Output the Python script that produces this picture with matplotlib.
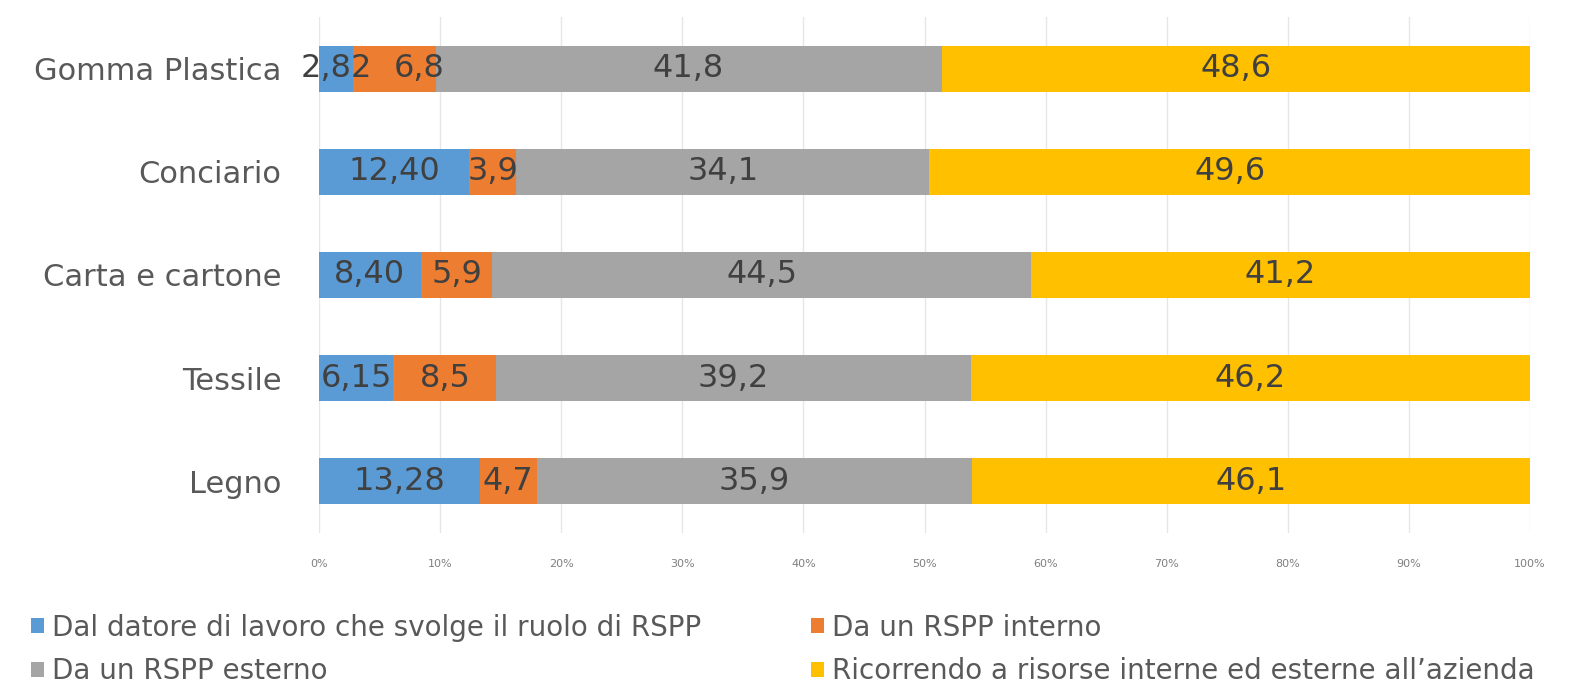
import matplotlib as mpl
import matplotlib.pyplot as plt

mpl.rc("figure", facecolor="white")
plt.rcParams['font.family'] = ['DejaVu Sans']

# data (top to bottom as in the picture)
categories = ['Gomma Plastica', 'Conciario', 'Carta e cartone', 'Tessile', 'Legno']
datore = [2.82, 12.40, 8.40, 6.15, 13.28]
interno = [6.8, 3.9, 5.9, 8.5, 4.7]
esterno = [41.8, 34.1, 44.5, 39.2, 35.9]
risorse = [48.6, 49.6, 41.2, 46.2, 46.1]
labels_datore = ['2,82', '12,40', '8,40', '6,15', '13,28']

series = [
    ('Dal datore di lavoro che svolge il ruolo di RSPP', datore, '#5B9BD5'),
    ('Da un RSPP interno', interno, '#ED7D31'),
    ('Da un RSPP esterno', esterno, '#A5A5A5'),
    ('Ricorrendo a risorse interne ed esterne all\u2019azienda', risorse, '#FFC000'),
]

# label nudges (points) where the original moved a label off centre
nudge = {(1, 0): 18}

fig = plt.figure(figsize=(15.81, 6.88), dpi=100)
ax = fig.add_axes([0.2018, 0.226, 0.766, 0.7486])

ypos = list(range(len(categories)))
tot = [sum(s[1][i] for s in series) for i in range(len(categories))]
left = [0.0] * len(categories)
for k, (name, vals, col) in enumerate(series):
    pct = [v / t * 100 for v, t in zip(vals, tot)]
    ax.barh(ypos, pct, left=left, height=0.45, color=col, label=name, zorder=2)
    for i, (p, v) in enumerate(zip(pct, vals)):
        if vals is datore:
            txt = labels_datore[i]
        else:
            txt = ('%.1f' % v).replace('.', ',')
        ax.annotate(txt, (left[i] + p / 2, i), xytext=(nudge.get((k, i), 0), 0),
                    textcoords='offset points', ha='center', va='center',
                    fontsize=23, color='#404040', zorder=3)
    left = [l + p for l, p in zip(left, pct)]

ax.set_xlim(0, 100)
ax.set_ylim(len(categories) - 0.5, -0.5)
ax.set_yticks(ypos)
ax.set_yticklabels(categories, fontsize=22, color='#595959')
ax.set_xticks(range(0, 101, 10))
ax.set_xticklabels(['%d%%' % t for t in range(0, 101, 10)], fontsize=8, color='#7f7f7f')
ax.tick_params(axis='both', length=0)
ax.tick_params(axis='x', pad=19)
ax.tick_params(axis='y', pad=27)
ax.grid(axis='x', color='#e6e6e6', linewidth=1, zorder=0)
for s in ax.spines.values():
    s.set_visible(False)

# legend: row 1 datore / interno, row 2 esterno / risorse
h, l = ax.get_legend_handles_labels()
order = [0, 2, 1, 3]
fig.legend([h[i] for i in order], [l[i] for i in order], loc='lower left',
           bbox_to_anchor=(0.011, -0.016), ncol=2, borderpad=0,
           frameon=False, fontsize=20, labelcolor='#595959',
           handlelength=0.45, handleheight=0.45, handletextpad=0.3,
           columnspacing=3.95, labelspacing=0.55)

fig.savefig('out.png', dpi=100)
